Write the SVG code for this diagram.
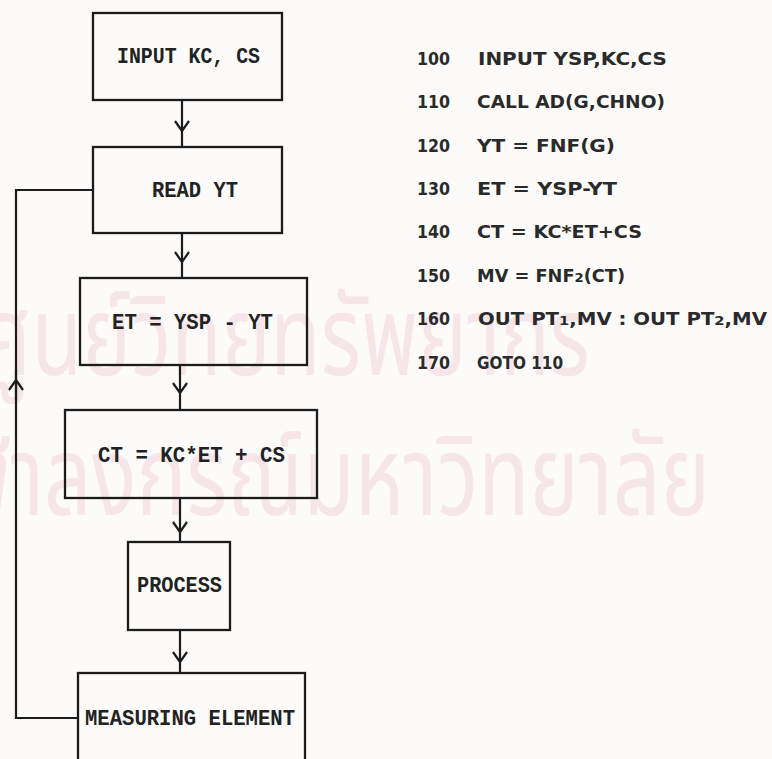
<svg xmlns="http://www.w3.org/2000/svg" width="772" height="759" viewBox="0 0 772 759">
<style>
.box{fill:none;stroke:#1c1c1c;stroke-width:2.3}
.lbl{font-family:"Liberation Mono","Courier New",monospace;font-weight:bold;font-size:22.5px;fill:#222}
.code{font-family:"DejaVu Sans","Liberation Sans",sans-serif;font-weight:bold;font-size:17.5px;fill:#2a2a2a}
.sub{font-size:13px}
.con{fill:none;stroke:#1c1c1c;stroke-width:2.2}
.arr{marker-mid:url(#ah)}
.wm{font-family:"Noto Sans Thai","DejaVu Sans","Noto Sans",sans-serif;fill:#f2d2da;opacity:0.5}
</style>
<defs>
<marker id="ah" viewBox="-12 -9 14 18" markerWidth="14" markerHeight="18" refX="0" refY="0" orient="auto" markerUnits="userSpaceOnUse">
<path d="M-10,-7 L0,0 L-10,7" fill="none" stroke="#1c1c1c" stroke-width="2.2"/>
</marker>
</defs>
<rect width="772" height="759" fill="#fcfbf9"/>
<g id="watermark">
<text class="wm" x="-20" y="375" font-size="110" textLength="610" lengthAdjust="spacingAndGlyphs">ศูนย์วิทยทรัพยากร</text>
<text class="wm" x="-90" y="515" font-size="110" textLength="800" lengthAdjust="spacingAndGlyphs">จุฬาลงกรณ์มหาวิทยาลัย</text>
</g>
<g id="connectors">
<path class="con arr" d="M182,100 V131 V147"/>
<path class="con arr" d="M182,233 V262 V278"/>
<path class="con arr" d="M180,365 V393 V410"/>
<path class="con arr" d="M180,498 V532 V542"/>
<path class="con arr" d="M180,630 V662 V673"/>
<path class="con" d="M78,718 H16 V190 H93"/>
<path class="con arr" d="M16,400 V380 V370"/>
</g>
<g id="n1">
<rect class="box" x="93" y="13" width="189" height="87"/>
<text class="lbl" x="117" y="63" textLength="143" lengthAdjust="spacingAndGlyphs">INPUT KC, CS</text>
</g>
<g id="n2">
<rect class="box" x="93" y="147" width="189" height="86"/>
<text class="lbl" x="152" y="197" textLength="86" lengthAdjust="spacingAndGlyphs">READ YT</text>
</g>
<g id="n3">
<rect class="box" x="80" y="278" width="227" height="87"/>
<text class="lbl" x="112" y="329" textLength="161" lengthAdjust="spacingAndGlyphs">ET = YSP - YT</text>
</g>
<g id="n4">
<rect class="box" x="65" y="410" width="252" height="88"/>
<text class="lbl" x="98" y="462" textLength="187" lengthAdjust="spacingAndGlyphs">CT = KC*ET + CS</text>
</g>
<g id="n5">
<rect class="box" x="128" y="542" width="102" height="88"/>
<text class="lbl" x="137" y="592" textLength="85" lengthAdjust="spacingAndGlyphs">PROCESS</text>
</g>
<g id="n6">
<rect class="box" x="78" y="673" width="227" height="110"/>
<text class="lbl" x="85" y="725" textLength="210" lengthAdjust="spacingAndGlyphs">MEASURING ELEMENT</text>
</g>
<g id="program">
<text class="code" x="417" y="65" textLength="33" lengthAdjust="spacingAndGlyphs">100</text>
<text class="code" x="478" y="65" textLength="189" lengthAdjust="spacingAndGlyphs">INPUT YSP,KC,CS</text>
<text class="code" x="417" y="108" textLength="33" lengthAdjust="spacingAndGlyphs">110</text>
<text class="code" x="477" y="108" textLength="188" lengthAdjust="spacingAndGlyphs">CALL AD(G,CHNO)</text>
<text class="code" x="417" y="152" textLength="33" lengthAdjust="spacingAndGlyphs">120</text>
<text class="code" x="477" y="152" textLength="138" lengthAdjust="spacingAndGlyphs">YT = FNF(G)</text>
<text class="code" x="417" y="195" textLength="33" lengthAdjust="spacingAndGlyphs">130</text>
<text class="code" x="477" y="195" textLength="140" lengthAdjust="spacingAndGlyphs">ET = YSP-YT</text>
<text class="code" x="417" y="238" textLength="33" lengthAdjust="spacingAndGlyphs">140</text>
<text class="code" x="477" y="238" textLength="165" lengthAdjust="spacingAndGlyphs">CT = KC*ET+CS</text>
<text class="code" x="417" y="282" textLength="33" lengthAdjust="spacingAndGlyphs">150</text>
<text class="code" x="477" y="282" textLength="148" lengthAdjust="spacingAndGlyphs">MV = FNF<tspan class="sub">2</tspan>(CT)</text>
<text class="code" x="417" y="325" textLength="33" lengthAdjust="spacingAndGlyphs">160</text>
<text class="code" x="478" y="325" textLength="289" lengthAdjust="spacingAndGlyphs">OUT PT<tspan class="sub">1</tspan>,MV : OUT PT<tspan class="sub">2</tspan>,MV</text>
<text class="code" x="417" y="369" textLength="33" lengthAdjust="spacingAndGlyphs">170</text>
<text class="code" x="477" y="369" textLength="86" lengthAdjust="spacingAndGlyphs">GOTO 110</text>
</g>
</svg>
